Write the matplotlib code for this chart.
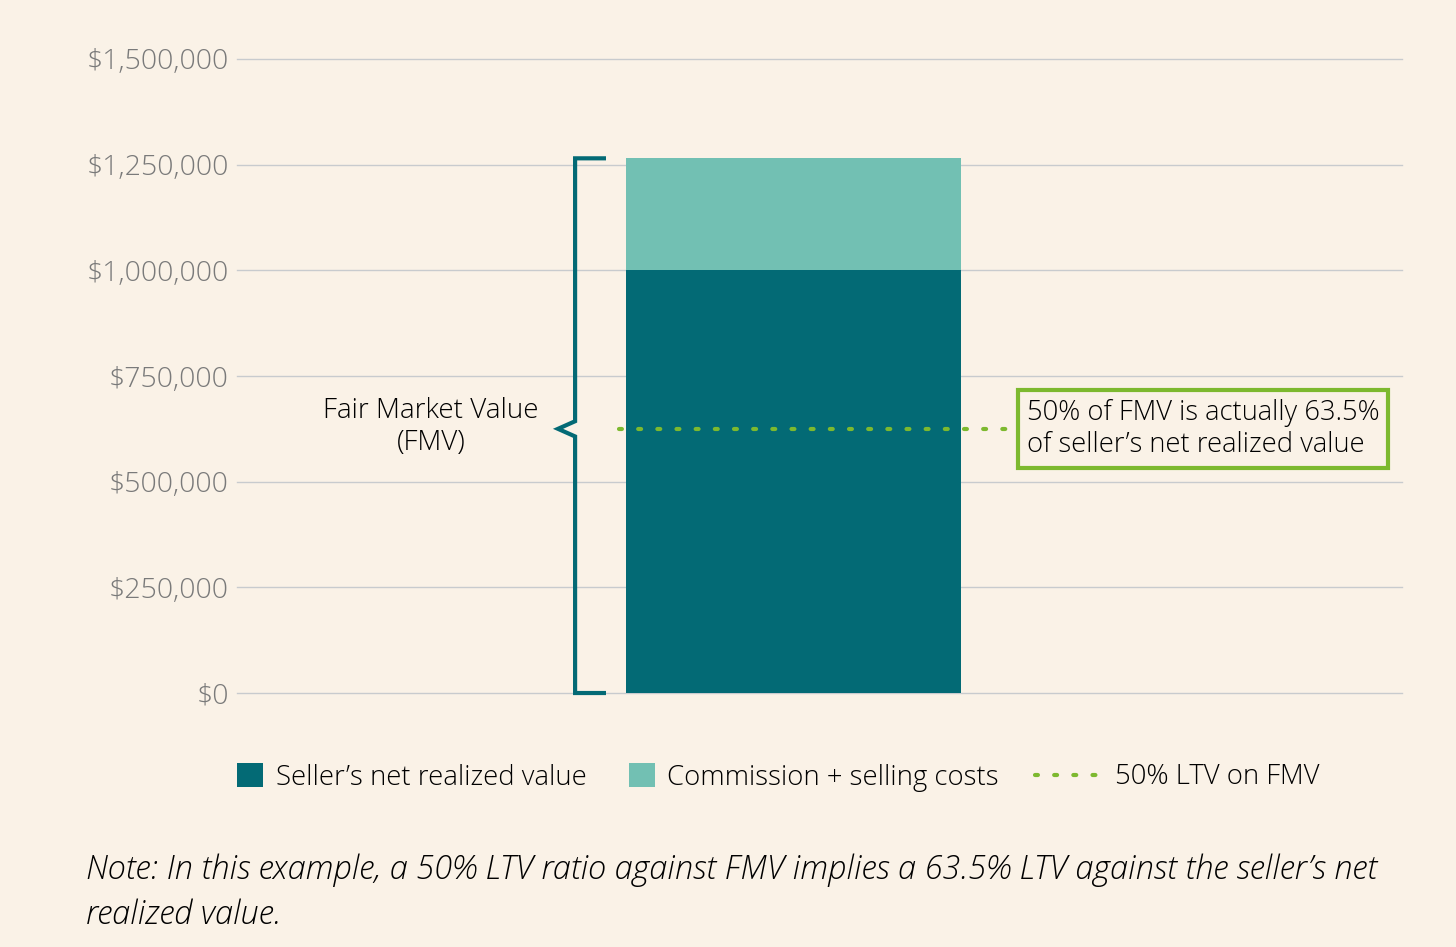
import matplotlib.pyplot as plt
from matplotlib.patches import Patch
from matplotlib.lines import Line2D
from matplotlib.ticker import FuncFormatter

# data
categories = ["Example"]
net_value = [1000000]
selling_costs = [265000]
ltv_level = 625000
y_ticks = [0, 250000, 500000, 750000, 1000000, 1250000, 1500000]

bg = "#FAF2E7"
dark_teal = "#036A75"
light_teal = "#72C0B3"
green = "#7DB92F"
grid_col = "#C8CBCE"
dots = (0, (0.7, 3.9))

plt.rcParams['font.family'] = ['Open Sans', 'DejaVu Sans']

fig = plt.figure(figsize=(14.56, 9.47), dpi=100, facecolor=bg)
ax = fig.add_axes([0.1628, 0.2682, 0.8001, 0.6695], facecolor=bg)

x = range(len(categories))
ax.bar(x, net_value, width=1.0, color=dark_teal, zorder=3)
ax.bar(x, selling_costs, bottom=net_value, width=1.0, color=light_teal, zorder=3)

ax.set_xlim(-1.661, 1.816)
ax.set_ylim(0, 1500000)
ax.set_yticks(y_ticks)
ax.yaxis.set_major_formatter(FuncFormatter(lambda v, p: "${:,.0f}".format(v)))
ax.set_xticks([])
ax.tick_params(axis='y', length=0, pad=6, labelsize=20.5, labelcolor="#7A7A7A")
for lab in ax.get_yticklabels():
    lab.set_fontweight('light')
ax.grid(axis='y', color=grid_col, linewidth=1.0, zorder=0)
for gl in ax.get_ygridlines():
    gl.set_clip_on(False)
for s in ax.spines.values():
    s.set_visible(False)

# brace showing fair market value
fmv = net_value[0] + selling_costs[0]
bx, sx, tip = -0.652, -0.566, -0.703
mid = ltv_level
ax.plot([sx, bx, bx, tip, bx, bx, sx],
        [fmv, fmv, mid + 18000, mid, mid - 18000, 0, 0],
        color=dark_teal, linewidth=3, clip_on=False, zorder=4,
        solid_joinstyle='miter')
ax.text(-1.082, mid + 5000, "Fair Market Value\n(FMV)", ha='center', va='center',
        fontsize=20, fontweight='light', color='black', linespacing=1.2)

# 50% LTV line
ax.plot([-0.52, 0.66], [ltv_level, ltv_level], color=green, linewidth=3,
        linestyle=dots, dash_capstyle='round', zorder=5)
ax.text(0.697, ltv_level, "50% of FMV is actually 63.5%\nof seller\u2019s net realized value",
        ha='left', va='center', fontsize=19.7, fontweight='light', color='black',
        linespacing=1.2,
        bbox=dict(boxstyle='square,pad=0.32', facecolor=bg, edgecolor=green, linewidth=3))

# legend: squares in one block, dotted line in another (longer handle)
patch_handles = [
    Patch(facecolor=dark_teal, label="Seller\u2019s net realized value"),
    Patch(facecolor=light_teal, label="Commission + selling costs"),
]
line_handles = [
    Line2D([0], [0], color=green, linewidth=3, linestyle=dots,
           dash_capstyle='round', label="50% LTV on FMV"),
]
leg1 = fig.legend(handles=patch_handles, loc='center left', bbox_to_anchor=(0.1628, 0.179),
                  ncol=2, frameon=False, fontsize=19.8, handlelength=0.95, handleheight=0.95,
                  handletextpad=0.45, columnspacing=1.55, borderpad=0, borderaxespad=0)
leg2 = fig.legend(handles=line_handles, loc='center right', bbox_to_anchor=(0.906, 0.179),
                  frameon=False, fontsize=19.8, handlelength=2.4,
                  handletextpad=0.5, borderpad=0, borderaxespad=0)
for leg in (leg1, leg2):
    for t in leg.get_texts():
        t.set_fontweight('light')

fig.text(0.059, 0.057,
         "Note: In this example, a 50% LTV ratio against FMV implies a 63.5% LTV against the seller\u2019s net\nrealized value.",
         ha='left', va='center', fontsize=23.5, style='italic', fontweight='light',
         color='black', linespacing=1.45)

fig.savefig("out.png", dpi=100, facecolor=bg)
